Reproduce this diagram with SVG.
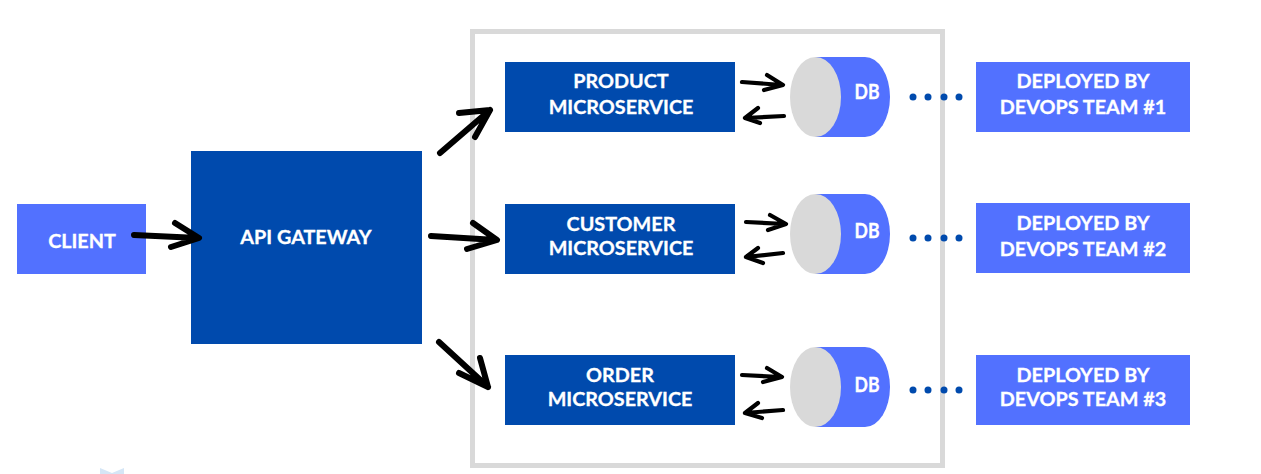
<svg xmlns="http://www.w3.org/2000/svg" width="1261" height="474" viewBox="0 0 1261 474">
<style>
.dark{fill:#004aad}.light{fill:#5271ff}.grey{fill:#d9d9d9}
text{font-family:"Lato","Liberation Sans",sans-serif;font-weight:700;font-size:19.800px;fill:#fff;stroke:#fff;stroke-width:.3;text-anchor:middle}
.db{font-size:20px}
.a{fill:none;stroke:#000;stroke-width:6;stroke-linecap:round;stroke-linejoin:round}
.s{stroke-width:4.200}
.dot{fill:#004aad}
</style>
<rect width="1261" height="474" fill="#fff"/>
<path d="M100 474L100 468L112 473L124 468L124 474Z" fill="#d5e6f6"/>
<rect id="frame" x="472.500" y="31.500" width="470" height="434" fill="none" stroke="#d9d9d9" stroke-width="5"/>
<g id="client"><rect class="light" x="17" y="204" width="129" height="70"/><text x="82" y="248">CLIENT</text></g>
<g id="gateway"><rect class="dark" x="191" y="151" width="231" height="193"/><text x="306" y="244">API GATEWAY</text></g>
<g id="product"><rect class="dark" x="505" y="62" width="230" height="70"/><text x="621" y="88">PRODUCT</text><text x="621" y="114">MICROSERVICE</text></g>
<g id="customer"><rect class="dark" x="505" y="204" width="230" height="70"/><text x="621" y="231">CUSTOMER</text><text x="621" y="255">MICROSERVICE</text></g>
<g id="order"><rect class="dark" x="505" y="355" width="230" height="70"/><text x="620" y="382">ORDER</text><text x="620" y="406">MICROSERVICE</text></g>
<g id="db1"><path class="light" d="M815 57H865A25 40 0 0 1 865 137H815Z"/><ellipse class="grey" cx="815.500" cy="97" rx="25.500" ry="40"/><text class="db" x="867" y="99" textLength="25" lengthAdjust="spacingAndGlyphs">DB</text></g>
<g id="db2"><path class="light" d="M815 194H865A25 40 0 0 1 865 274H815Z"/><ellipse class="grey" cx="815.500" cy="234" rx="25.500" ry="40"/><text class="db" x="867" y="238" textLength="25" lengthAdjust="spacingAndGlyphs">DB</text></g>
<g id="db3"><path class="light" d="M815 347H865A25 40 0 0 1 865 427H815Z"/><ellipse class="grey" cx="815.500" cy="387" rx="25.500" ry="40"/><text class="db" x="867" y="392" textLength="25" lengthAdjust="spacingAndGlyphs">DB</text></g>
<g id="team1"><rect class="light" x="976" y="62" width="214" height="70"/><text x="1083" y="88">DEPLOYED BY</text><text x="1083" y="114">DEVOPS TEAM #1</text></g>
<g id="team2"><rect class="light" x="976" y="203" width="214" height="70"/><text x="1083" y="230">DEPLOYED BY</text><text x="1083" y="256">DEVOPS TEAM #2</text></g>
<g id="team3"><rect class="light" x="976" y="355" width="214" height="70"/><text x="1083" y="382">DEPLOYED BY</text><text x="1083" y="406">DEVOPS TEAM #3</text></g>
<g id="connectors">
<path class="a" d="M134 235L198 238M175 223L199 238L171 247"/>
<path class="a" d="M431 236L496 240M473 223L497 240L467 249"/>
<path class="a" d="M440 153L490 110M459 113L490 110L475 137"/>
<path class="a" d="M439 342L488 387M480 358L488 387L459 373"/>
<path class="a s" d="M742 82L782 85M767 75L783 85L764 90"/>
<path class="a s" d="M784 116L745 118M758 108L745 118L760 123"/>
<path class="a s" d="M746 222L785 224M770 215L786 224L768 230"/>
<path class="a s" d="M783 253L746 257M758 248L746 257L763 263"/>
<path class="a s" d="M742 375L781 377M767 368L782 377L763 382"/>
<path class="a s" d="M783 410L745 413M758 403L745 413L762 418"/>
<g class="dot">
<circle cx="913" cy="97" r="3.500"/><circle cx="928" cy="97" r="3.500"/><circle cx="944" cy="97" r="3.500"/><circle cx="959" cy="97" r="3.500"/>
<circle cx="913" cy="238" r="3.500"/><circle cx="928" cy="238" r="3.500"/><circle cx="944" cy="238" r="3.500"/><circle cx="959" cy="238" r="3.500"/>
<circle cx="913" cy="390" r="3.500"/><circle cx="928" cy="390" r="3.500"/><circle cx="944" cy="390" r="3.500"/><circle cx="959" cy="390" r="3.500"/>
</g>
</g>
</svg>
